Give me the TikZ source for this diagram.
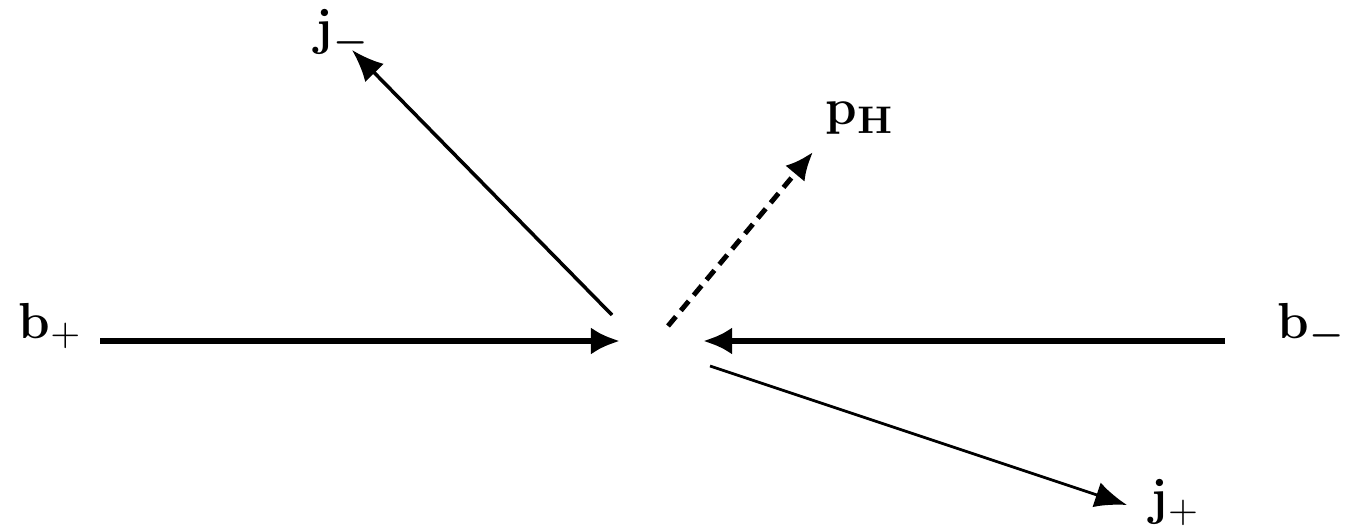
\documentclass[tikz,border=0pt]{standalone}
\usepackage{amsmath,amssymb}
\usetikzlibrary{arrows.meta}
\tikzset{
  beam/.style={line width=1.7pt, -{Latex[length=2.9mm,width=2.7mm]}},
  jet/.style={line width=1pt, -{Latex[length=3.2mm,width=2.6mm]}},
  higgs/.style={line width=1.4pt, dash pattern=on 3.5pt off 2.2pt, -{Latex[length=2.8mm,width=2.5mm]}},
  lbl/.style={anchor=base west, inner sep=0pt, font=\fontsize{15}{18}\selectfont}
}
\begin{document}
\begin{tikzpicture}[x=0.01cm, y=0.01cm]
  \useasboundingbox (0,0) rectangle (1348,530);
  % labels
  \node[lbl] (bp) at (18,192) {$\mathbf{b}_+$};
  \node[lbl] (bm) at (1277,192) {$\mathbf{b}_{\boldsymbol{-}}$};
  \node[lbl] (jm) at (315,485) {$\mathbf{j}_{\boldsymbol{-}}$};
  \node[lbl] (jp) at (1150,15) {$\mathbf{j}_+$};
  \node[lbl] (ph) at (825,405) {$\mathbf{p}_{\mathbf{H}}$};

  % arrow ends
  \coordinate (bpfrom) at (100,189);
  \coordinate (bpto) at (620,189);
  \coordinate (bmfrom) at (1225,189);
  \coordinate (bmto) at (703,189);
  \coordinate (jmfrom) at (612,215);
  \coordinate (jmto) at (352,480);
  \coordinate (jpfrom) at (710,164);
  \coordinate (jpto) at (1127,25);
  \coordinate (phfrom) at (668,204);
  \coordinate (phto) at (813,378);

  % incoming beams
  \draw[beam] (bpfrom) -- (bpto);
  \draw[beam] (bmfrom) -- (bmto);

  % outgoing
  \draw[jet] (jmfrom) -- (jmto);
  \draw[jet, line width=0.8pt] (jpfrom) -- (jpto);
  \draw[higgs] (phfrom) -- (phto);
\end{tikzpicture}
\end{document}
